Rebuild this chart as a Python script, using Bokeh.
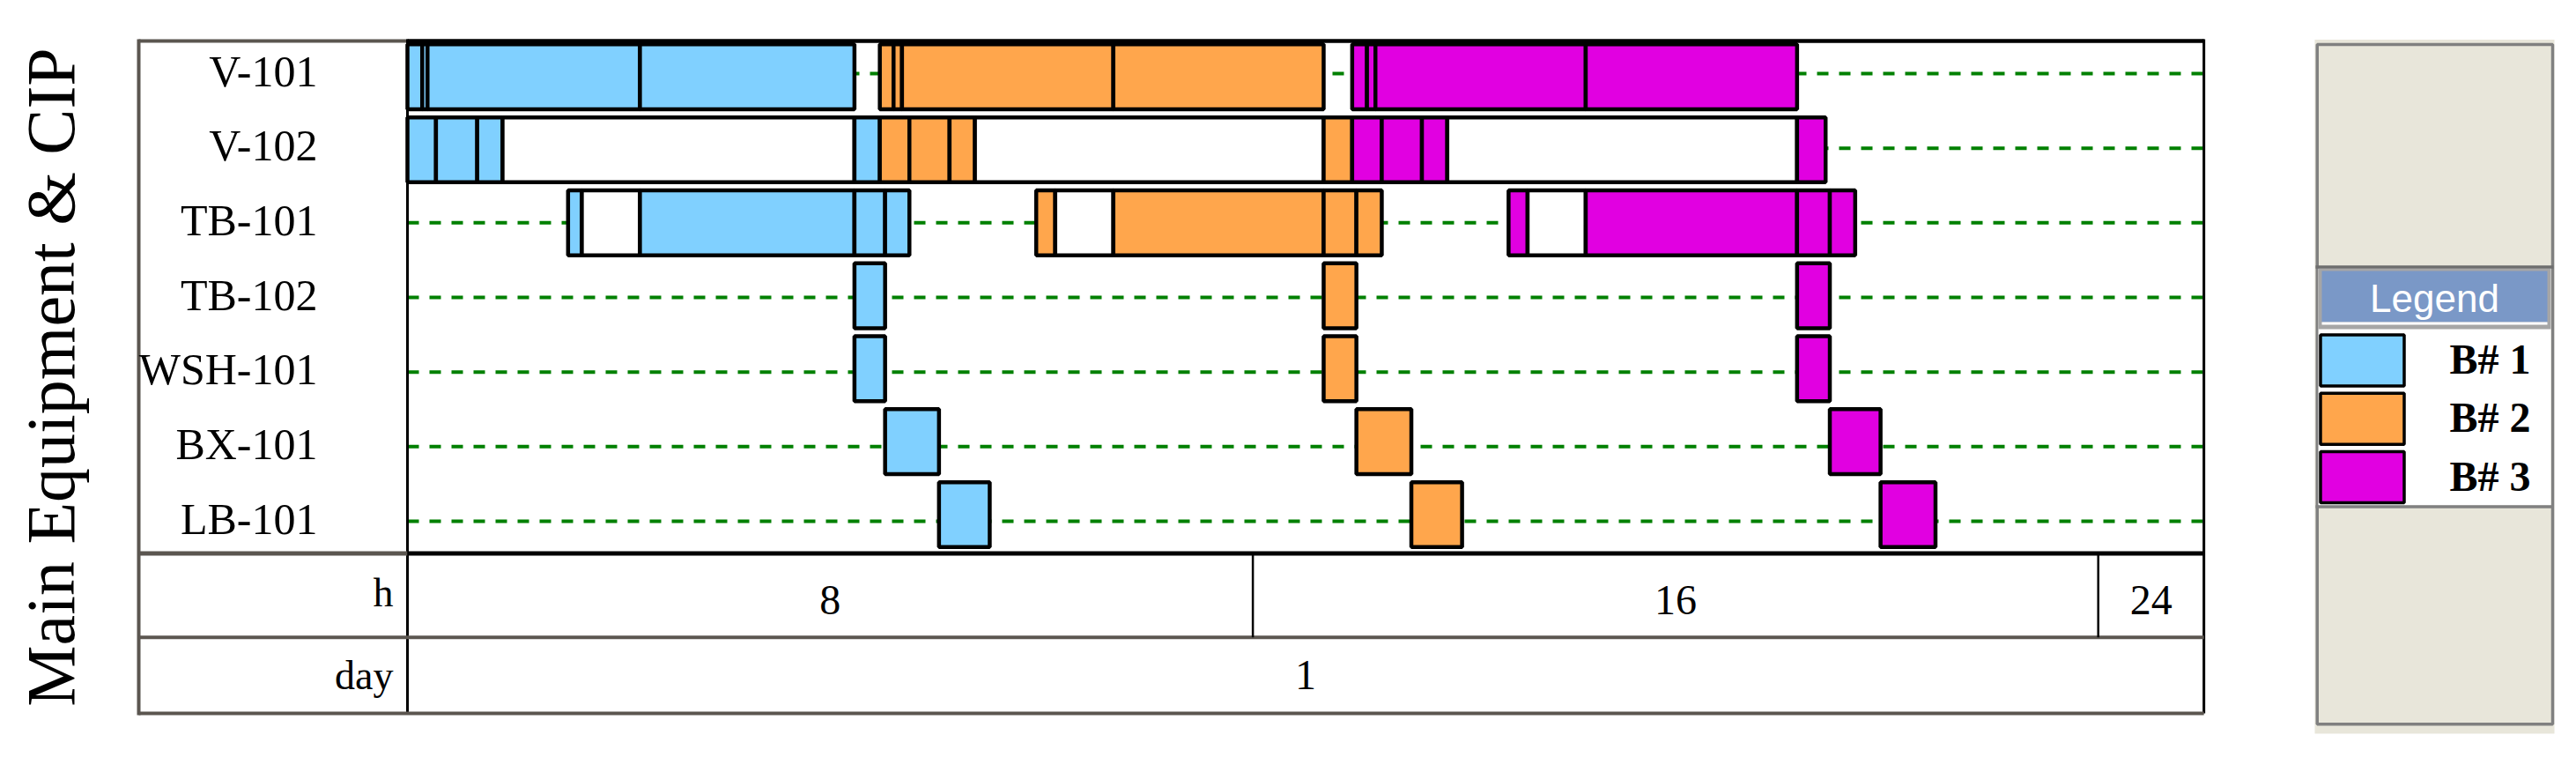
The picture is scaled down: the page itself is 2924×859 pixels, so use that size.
import math
from bokeh.plotting import figure
from bokeh.models import Range1d, ColumnDataSource
from bokeh.core.properties import value
from bokeh.embed import file_html
from bokeh.resources import INLINE

# ---------------- data ----------------
equipment = ["V-101", "V-102", "TB-101", "TB-102", "WSH-101", "BX-101", "LB-101"]
batches = ["B# 1", "B# 2", "B# 3"]
batch_colors = ["#80D0FF", "#FFA64C", "#E100E1"]
idle_fill = "#FFFFFF"

# one entry per operation bar: equipment, batch number (0 = equipment held, no operation), start h, end h
seg_equipment = (
    ["V-101"] * 12
    + ["V-102"] * 15
    + ["TB-101"] * 15
    + ["TB-102"] * 3
    + ["WSH-101"] * 3
    + ["BX-101"] * 3
    + ["LB-101"] * 3
)
seg_batch = [
    1, 1, 1, 1, 2, 2, 2, 2, 3, 3, 3, 3,                      # V-101
    1, 1, 1, 0, 1, 2, 2, 2, 0, 2, 3, 3, 3, 0, 3,             # V-102
    1, 0, 1, 1, 1, 2, 0, 2, 2, 2, 3, 0, 3, 3, 3,             # TB-101
    1, 2, 3,                                                 # TB-102
    1, 2, 3,                                                 # WSH-101
    1, 2, 3,                                                 # BX-101
    1, 2, 3,                                                 # LB-101
]
seg_start = [
    0.00, 0.14, 0.19, 2.20, 4.47, 4.60, 4.68, 6.68, 8.94, 9.08, 9.16, 11.15,
    0.00, 0.27, 0.66, 0.90, 4.23, 4.47, 4.75, 5.13, 5.37, 8.67, 8.94, 9.22, 9.60, 9.84, 13.15,
    1.52, 1.65, 2.20, 4.23, 4.52, 5.95, 6.13, 6.68, 8.67, 8.98, 10.42, 10.60, 11.15, 13.15, 13.46,
    4.23, 8.67, 13.15,
    4.23, 8.67, 13.15,
    4.52, 8.98, 13.46,
    5.03, 9.50, 13.94,
]
seg_end = [
    0.14, 0.19, 2.20, 4.23, 4.60, 4.68, 6.68, 8.67, 9.08, 9.16, 11.15, 13.15,
    0.27, 0.66, 0.90, 4.23, 4.47, 4.75, 5.13, 5.37, 8.67, 8.94, 9.22, 9.60, 9.84, 13.15, 13.42,
    1.65, 2.20, 4.23, 4.52, 4.75, 6.13, 6.68, 8.67, 8.98, 9.22, 10.60, 11.15, 13.15, 13.46, 13.70,
    4.52, 8.98, 13.46,
    4.52, 8.98, 13.46,
    5.03, 9.50, 13.94,
    5.51, 9.98, 14.46,
]

hour_ticks = [8, 16, 24]
hour_labels = ["8", "16", "24"]
day_ticks = [24]
day_labels = ["1"]
time_end = 17.0

axis_title = "Main Equipment & CIP"
hour_row_name = "h"
day_row_name = "day"
legend_title = "Legend"

# ---------------- layout (page pixels -> data units) ----------------
OFF = 0
W, H = 2908, 843
PX0, PXH = 462.0, 119.95      # page x of hour 0, pixels per hour
ROW0, ROWP = 86.7, 82.8       # page y of first row centre, row pitch
BL = 0.34                     # anchor-to-baseline shift of rendered text, in em

def hx(px):
    return (px - PX0) / PXH

def ry(py):
    return (py - ROW0) / ROWP

SERIF = value("Liberation Serif")
SANS = value("Liberation Sans")
GRAY = "#5B5650"

p = figure(width=W, height=H,
           x_range=Range1d(hx(OFF), hx(OFF + W)),
           y_range=Range1d(ry(OFF + H), ry(OFF)),
           output_backend="svg", toolbar_location=None,
           min_border=0, x_axis_location=None, y_axis_location=None,
           outline_line_color=None,
           background_fill_color="white", border_fill_color="white")
p.grid.visible = False
if p.title is not None:
    p.title.visible = False

n = len(equipment)
row_of = {e: i for i, e in enumerate(equipment)}

# dashed guide lines per equipment row
guide_y = [(-3.7 + k * 84.67) / ROWP for k in range(n)]
p.multi_line(xs=[[0, time_end] for _ in range(n)], ys=[[g, g] for g in guide_y],
             line_color="#008000", line_width=4, line_dash="13 12")

# bars
HALF = 0.445
fills = [batch_colors[b - 1] if b > 0 else idle_fill for b in seg_batch]
src = ColumnDataSource(dict(
    left=seg_start, right=seg_end,
    top=[row_of[e] - HALF for e in seg_equipment],
    bottom=[row_of[e] + HALF for e in seg_equipment],
    fill=fills))
p.quad(left="left", right="right", top="top", bottom="bottom", fill_color="fill",
       line_color="black", line_width=4.5, source=src)

# table frame
def seg(x0, y0, x1, y1, color, w):
    p.segment(x0=[x0], y0=[y0], x1=[x1], y1=[y1], line_color=color, line_width=w)

X_TAB = hx(157)
y_top = ry(46)
y_gbot = ry(627.5)
y_hbot = ry(722.7)
y_dbot = ry(809)
seg(X_TAB, y_top, 0, y_top, GRAY, 4)
seg(0, y_top, time_end, y_top, "black", 4.5)
seg(X_TAB, ry(44), X_TAB, ry(811), GRAY, 4)
seg(0, ry(44), 0, ry(809), "black", 3)
seg(time_end, ry(44), time_end, ry(809), "black", 3)
seg(X_TAB, y_gbot, 0, y_gbot, GRAY, 5)
seg(0, y_gbot, time_end, y_gbot, "black", 5)
seg(X_TAB, y_hbot, time_end, y_hbot, GRAY, 4)
seg(X_TAB, y_dbot, time_end, y_dbot, GRAY, 4)
for t in hour_ticks:
    if t < time_end:
        seg(t, y_gbot, t, y_hbot, "black", 2.5)

# row labels
p.text(x=[hx(360)] * n, y=[g + (14 - BL * 50) / ROWP for g in guide_y], text=equipment,
       text_align="right", text_baseline="alphabetic", text_font=SERIF,
       text_font_size=value("50px"), text_color="black")

# vertical axis title
p.text(x=[hx(84 - BL * 78)], y=[ry(427.5)], text=[axis_title], angle=math.pi / 2,
       text_align="center", text_baseline="alphabetic", text_font=SERIF,
       text_font_size=value("78px"), text_color="black")

# time scale rows
p.text(x=[hx(446), hx(446)], y=[ry(687.3 - BL * 46), ry(781.7 - BL * 46)],
       text=[hour_row_name, day_row_name],
       text_align="right", text_baseline="alphabetic", text_font=SERIF,
       text_font_size=value("46px"), text_color="black")

prev = [0] + hour_ticks[:-1]
hour_cx = [(max(0, a) + min(b, time_end)) / 2 for a, b in zip(prev, hour_ticks)]
p.text(x=hour_cx, y=[ry(697 - BL * 48)] * len(hour_cx), text=hour_labels,
       text_align="center", text_baseline="alphabetic", text_font=SERIF,
       text_font_size=value("48px"), text_color="black")

dprev = [0] + day_ticks[:-1]
day_cx = [(max(0, a) + min(b, time_end)) / 2 for a, b in zip(dprev, day_ticks)]
p.text(x=day_cx, y=[ry(781.7 - BL * 48)] * len(day_cx), text=day_labels,
       text_align="center", text_baseline="alphabetic", text_font=SERIF,
       text_font_size=value("48px"), text_color="black")

# legend panel
def box(l, r, t, b, fill, line=None, w=0):
    p.quad(left=[hx(l)], right=[hx(r)], top=[ry(t)], bottom=[ry(b)],
           fill_color=fill, line_color=line, line_width=w)

box(2627, 2899, 44.5, 832, "#E8E6DA")
box(2629.75, 2897, 50, 821.3, None, "#808080", 3.5)
box(2631, 2895, 304, 573, "white")
box(2631, 2895, 304, 373, "#A6A6A6")
box(2635, 2891, 307, 365, "#7A98C7")
box(2635, 2891, 365, 368, "white")
seg(hx(2628), ry(302.5), hx(2898), ry(302.5), "#6E6E6E", 3.5)
seg(hx(2628), ry(574.5), hx(2898), ry(574.5), "#808080", 3.5)
p.text(x=[hx(2763)], y=[ry(352.7 - BL * 44)], text=[legend_title], text_align="center",
       text_baseline="alphabetic", text_font=SANS, text_font_size=value("44px"),
       text_color="white")

sw_c = [408.5 + i * 66.3 for i in range(len(batches))]
p.quad(left=[hx(2633.5)] * len(batches), right=[hx(2728.5)] * len(batches),
       top=[ry(c - 29) for c in sw_c], bottom=[ry(c + 29) for c in sw_c],
       fill_color=batch_colors, line_color="black", line_width=3.5)
p.text(x=[hx(2780)] * len(batches), y=[ry(c + 14.8 - BL * 48) for c in sw_c], text=batches,
       text_align="left", text_baseline="alphabetic", text_font=SERIF,
       text_font_style="bold", text_font_size=value("48px"), text_color="black")

open("out.html", "w").write(file_html(p, INLINE))
